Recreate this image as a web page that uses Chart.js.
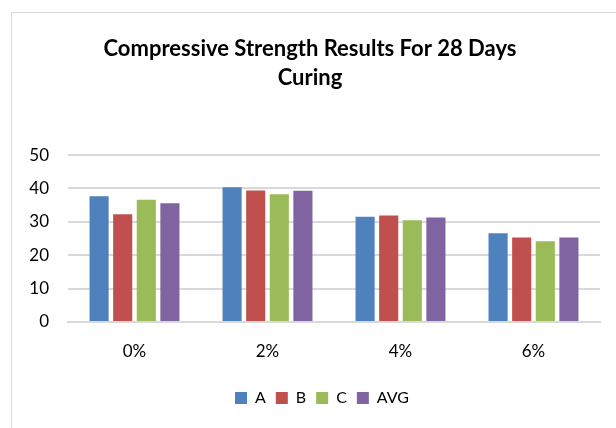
<!DOCTYPE html>
<html lang="en">
<head>
    <meta charset="UTF-8">
    <title>Compressive Strength Results For 28 Days Curing</title>
    <script src="https://cdn.jsdelivr.net/npm/chart.js"></script>
    <style>
        body { margin: 0; background: #fff; overflow: hidden; }
        #frame {
            position: absolute; left: 11px; top: 12px;
            width: 700px; height: 500px;
            border: 1.5px solid #d9d9d9;
        }
        #wrap { position: absolute; left: 0; top: 0; width: 616px; height: 428px; }
    </style>
</head>
<body>
    <div id="frame"></div>
    <div id="wrap"><canvas id="grafico"></canvas></div>

    <script>
        // data
        var categorias = ["0%", "2%", "4%", "6%"];
        var valoresA = [37.7, 40.4, 31.5, 26.6];
        var valoresB = [32.3, 39.4, 31.9, 25.3];
        var valoresC = [36.6, 38.3, 30.5, 24.2];
        var valoresAVG = [35.6, 39.3, 31.3, 25.3];
        var ticksY = [0, 10, 20, 30, 40, 50];

        var fonte = "Lato, 'Liberation Sans', sans-serif";

        function serie(nome, valores, cor) {
            return {
                label: nome,
                data: valores,
                backgroundColor: cor,
                borderWidth: 0,
                categoryPercentage: 0.71,
                barPercentage: 0.81
            };
        }

        // legenda um pouco para a direita, como no original
        var deslocaLegenda = {
            id: "deslocaLegenda",
            afterLayout: function (chart) {
                chart.legend.left += 12;
                chart.legend.right += 12;
            }
        };

        var ctx = document.getElementById("grafico").getContext("2d");
        var grafico = new Chart(ctx, {
            type: "bar",
            data: {
                labels: categorias,
                datasets: [
                    serie("A", valoresA, "#4F81BD"),
                    serie("B", valoresB, "#C0504D"),
                    serie("C", valoresC, "#9BBB59"),
                    serie("AVG", valoresAVG, "#8064A2")
                ]
            },
            plugins: [deslocaLegenda],
            options: {
                responsive: true,
                maintainAspectRatio: false,
                animation: false,
                layout: { padding: { left: 20, right: 16, top: 0, bottom: 12 } },
                plugins: {
                    title: {
                        display: true,
                        text: ["Compressive Strength Results For 28 Days", "Curing"],
                        color: "#000",
                        font: { family: fonte, size: 22, weight: "bold", lineHeight: 1.32 },
                        padding: { top: 34, bottom: 63 }
                    },
                    legend: {
                        position: "bottom",
                        labels: {
                            color: "#000",
                            font: { family: fonte, size: 16 },
                            boxWidth: 12,
                            boxHeight: 12,
                            padding: 10
                        }
                    },
                    tooltip: { enabled: false }
                },
                scales: {
                    x: {
                        grid: { display: false, drawTicks: false },
                        border: { color: "#d9d9d9", width: 2 },
                        ticks: { color: "#000", font: { family: fonte, size: 17 }, padding: 19 },
                        afterFit: function (s) { s.height = 58; }
                    },
                    y: {
                        min: 0,
                        max: 50,
                        afterBuildTicks: function (s) {
                            s.ticks = ticksY.map(function (v) { return { value: v }; });
                        },
                        grid: { color: "#d9d9d9", lineWidth: 2, drawTicks: false },
                        border: { display: false },
                        ticks: { color: "#000", font: { family: fonte, size: 17 }, padding: 19 },
                        afterFit: function (s) { s.width = 48; }
                    }
                }
            }
        });
    </script>
</body>
</html>
